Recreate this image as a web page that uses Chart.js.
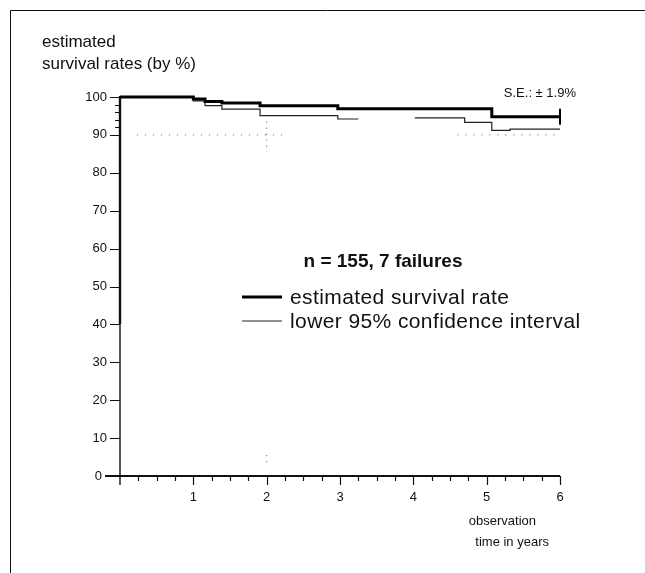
<!DOCTYPE html>
<html>
<head>
<meta charset="utf-8">
<script src="https://cdn.jsdelivr.net/npm/chart.js@4.4.1/dist/chart.umd.min.js"></script>
<style>
  html, body { margin: 0; padding: 0; background: #fff; }
  #wrap { width: 645px; height: 573px; }
</style>
</head>
<body>
<div id="wrap"><canvas id="survivalChart"></canvas></div>
<script>
// Kaplan-Meier estimate, years of observation vs. survival (%)
const survivalYears = [0, 1.0, 1.16, 1.39, 1.91, 2.97, 5.07, 6];
const survivalRates = [100, 99.5, 98.8, 98.4, 97.7, 96.9, 94.8, 94.8];

// lower 95% CI (the printed line breaks between ~3.25 and 4 years)
const lowerYears = [0, 1.0, 1.16, 1.39, 1.91, 2.97, 3.25, 3.6, 4.02, 4.70, 5.07, 5.32, 6];
const lowerRates = [100, 99.0, 97.7, 96.8, 95.1, 94.2, 94.2, null, 94.5, 93.3, 91.2, 91.5, 91.5];

// closing bar at the end of follow-up
const endYears = [6, 6];
const endRates = [96.9, 92.7];

// faint dotted guides left in the print
const guideYears = [0.23, 2.25, 3.0, 4.6, 6];
const guideRates = [90, 90, null, 90, 90];
const markYears = [2, 2, 2, 2, 2];
const markRates = [93.5, 85.5, null, 5.5, 2.5];

const yTicks = [0, 10, 20, 30, 40, 50, 60, 70, 80, 90, 100];
const yMinorTicks = [92, 94, 96, 98];
const xTicks = [1, 2, 3, 4, 5, 6];
const xMinorTicks = [0.25, 0.5, 0.75, 1.25, 1.5, 1.75, 2.25, 2.5, 2.75,
                     3.25, 3.5, 3.75, 4.25, 4.5, 4.75, 5.25, 5.5, 5.75];

const yTitle = ['estimated', 'survival rates (by %)'];
const xTitle = ['observation', 'time in years'];
const seNote = 'S.E.: \u00b1 1.9%';
const caseNote = 'n = 155, 7 failures';

const FONT = "'Liberation Sans', Arial, Helvetica, sans-serif";

const toPoints = (xs, ys) => xs.map((v, i) => ({ x: v, y: ys[i] }));

const axesPlugin = {
  id: 'axesAndText',
  beforeDatasetsDraw(chart) {
    const { ctx } = chart;
    const { x, y } = chart.scales;
    const x0 = x.getPixelForValue(0);
    const y0 = y.getPixelForValue(0);
    const yTop = y.getPixelForValue(100);
    const y40 = y.getPixelForValue(40);
    const xEnd = x.getPixelForValue(6);

    ctx.save();
    ctx.strokeStyle = '#111';
    ctx.fillStyle = '#111';

    // frame of the scanned figure
    ctx.lineWidth = 1;
    ctx.beginPath();
    ctx.moveTo(10.5, 573);
    ctx.lineTo(10.5, 10.5);
    ctx.lineTo(645, 10.5);
    ctx.stroke();

    // axes (upper part of the y axis prints heavier)
    ctx.lineWidth = 2.4;
    ctx.beginPath();
    ctx.moveTo(x0, yTop - 1);
    ctx.lineTo(x0, y40);
    ctx.stroke();
    ctx.lineWidth = 1.4;
    ctx.beginPath();
    ctx.moveTo(x0, y40);
    ctx.lineTo(x0, y0 + 9);
    ctx.stroke();
    ctx.lineWidth = 2;
    ctx.beginPath();
    ctx.moveTo(x0 - 15, y0);
    ctx.lineTo(xEnd, y0);
    ctx.stroke();

    // y ticks
    ctx.lineWidth = 1.2;
    ctx.beginPath();
    yTicks.forEach(v => {
      const py = Math.round(y.getPixelForValue(v)) + 0.5;
      ctx.moveTo(x0 - 10, py);
      ctx.lineTo(x0, py);
    });
    yMinorTicks.forEach(v => {
      const py = Math.round(y.getPixelForValue(v)) + 0.5;
      ctx.moveTo(x0 - 5, py);
      ctx.lineTo(x0, py);
    });
    // x ticks
    xTicks.forEach(v => {
      const px = Math.round(x.getPixelForValue(v)) + 0.5;
      ctx.moveTo(px, y0);
      ctx.lineTo(px, y0 + 9);
    });
    xMinorTicks.forEach(v => {
      const px = Math.round(x.getPixelForValue(v)) + 0.5;
      ctx.moveTo(px, y0);
      ctx.lineTo(px, y0 + 5);
    });
    ctx.stroke();

    // tick labels
    ctx.font = '13px ' + FONT;
    ctx.textAlign = 'right';
    ctx.textBaseline = 'middle';
    yTicks.forEach(v => {
      const gap = v === 0 ? 18 : 13;
      ctx.fillText(String(v), x0 - gap, y.getPixelForValue(v));
    });
    ctx.textAlign = 'center';
    ctx.textBaseline = 'top';
    xTicks.forEach(v => {
      ctx.fillText(String(v), x.getPixelForValue(v), y0 + 15);
    });

    // axis titles
    ctx.font = '17px ' + FONT;
    ctx.textAlign = 'left';
    ctx.textBaseline = 'alphabetic';
    ctx.fillText(yTitle[0], 42, 47);
    ctx.fillText(yTitle[1], 42, 69);
    ctx.font = '13px ' + FONT;
    ctx.textAlign = 'right';
    ctx.fillText(xTitle[0], 536, 525);
    ctx.fillText(xTitle[1], 549, 546);

    // standard error note
    ctx.fillText(seNote, 576, 97);

    // sample note
    ctx.font = 'bold 19px ' + FONT;
    ctx.textAlign = 'center';
    ctx.fillText(caseNote, 383, 267);

    // legend
    ctx.font = '21px ' + FONT;
    ctx.letterSpacing = '0.4px';
    ctx.textAlign = 'left';
    const rows = [chart.data.datasets[0], chart.data.datasets[1]];
    rows.forEach((ds, i) => {
      const ly = 297 + i * 24;
      ctx.lineWidth = ds.borderWidth;
      ctx.strokeStyle = ds.borderColor;
      ctx.beginPath();
      ctx.moveTo(242, ly);
      ctx.lineTo(282, ly);
      ctx.stroke();
      ctx.fillText(ds.label, 290, ly + 7);
    });

    ctx.restore();
  }
};

new Chart(document.getElementById('survivalChart'), {
  type: 'line',
  data: {
    datasets: [
      {
        label: 'estimated survival rate',
        data: toPoints(survivalYears, survivalRates),
        borderColor: '#000',
        borderWidth: 3,
        stepped: 'before',
        pointRadius: 0,
        clip: false
      },
      {
        label: 'lower 95% confidence interval',
        data: toPoints(lowerYears, lowerRates),
        borderColor: '#222',
        borderWidth: 1.2,
        stepped: 'before',
        spanGaps: false,
        pointRadius: 0,
        clip: false
      },
      {
        label: 'end',
        data: toPoints(endYears, endRates),
        borderColor: '#000',
        borderWidth: 2,
        pointRadius: 0,
        clip: false
      },
      {
        label: 'guide',
        data: toPoints(guideYears, guideRates),
        borderColor: '#555',
        borderWidth: 1,
        borderDash: [1, 7],
        spanGaps: false,
        pointRadius: 0
      },
      {
        label: 'mark',
        data: toPoints(markYears, markRates),
        borderColor: '#555',
        borderWidth: 1,
        borderDash: [1, 5],
        spanGaps: false,
        pointRadius: 0
      }
    ]
  },
  options: {
    responsive: true,
    maintainAspectRatio: false,
    animation: false,
    layout: { padding: { left: 120, right: 85, top: 97, bottom: 97 } },
    plugins: {
      legend: { display: false },
      tooltip: { enabled: false }
    },
    scales: {
      x: { type: 'linear', min: 0, max: 6, display: false },
      y: { min: 0, max: 100, display: false }
    }
  },
  plugins: [axesPlugin]
});
</script>
</body>
</html>
